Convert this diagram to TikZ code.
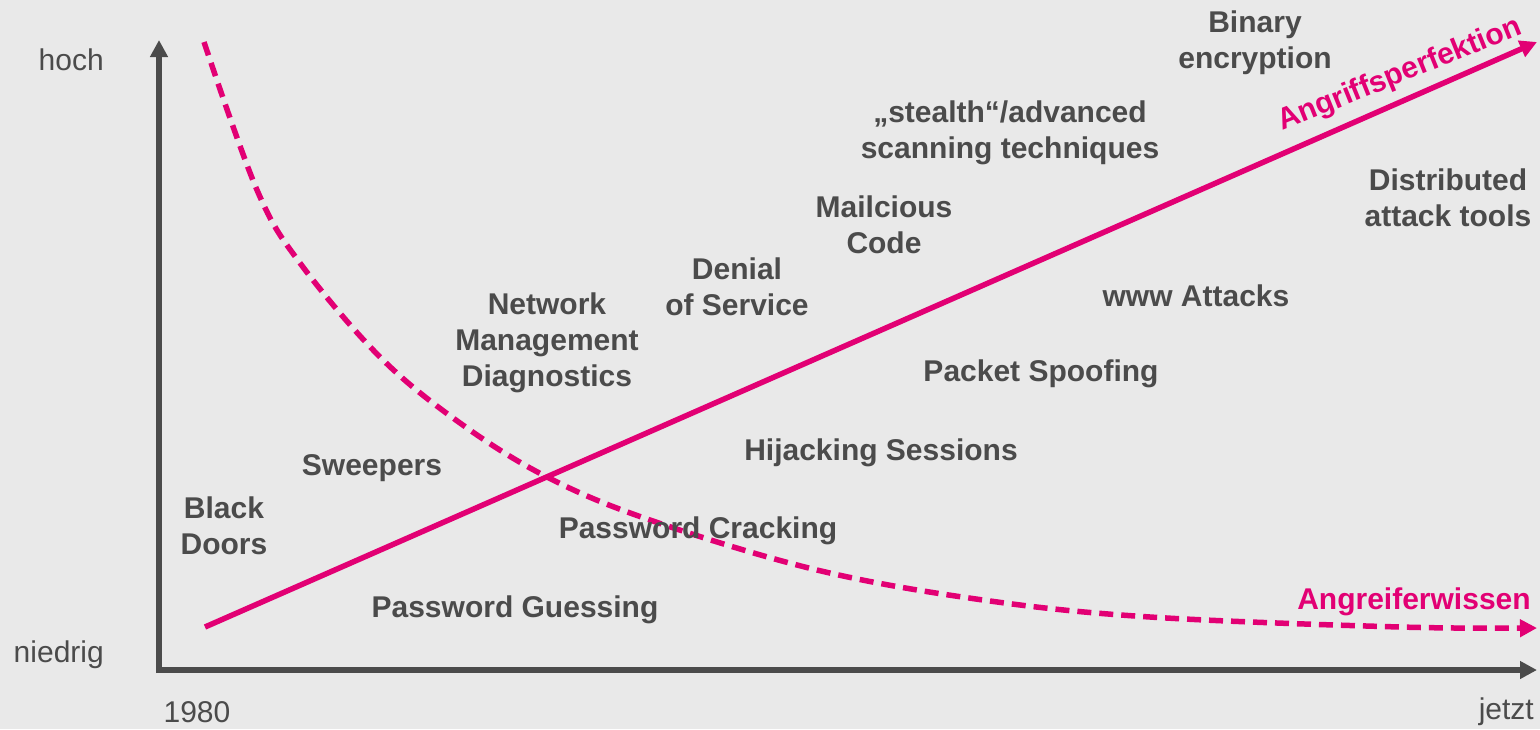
\documentclass[tikz,border=0pt]{standalone}
\usepackage{fontspec}
\setmainfont{Liberation Sans}
\usetikzlibrary{arrows.meta}
\definecolor{tmagenta}{HTML}{E20074}
\definecolor{tgrey}{HTML}{4B4B4B}
\definecolor{tback}{HTML}{E9E9E9}
\tikzset{
  axis/.style={draw=tgrey, line width=5.5pt, -{Triangle[length=17pt,width=17pt]}},
  trend/.style={draw=tmagenta, line width=5.5pt, -{Triangle[length=17pt,width=17pt]}},
  attack/.style={text=tgrey, font=\fontsize{30}{36}\selectfont\bfseries, align=center, inner sep=0pt},
  scale label/.style={text=tgrey, font=\fontsize{30}{36}\selectfont, inner sep=0pt},
  trend label/.style={text=tmagenta, font=\fontsize{30}{36}\selectfont\bfseries, inner sep=0pt}
}
\begin{document}
\begin{tikzpicture}[x=1pt, y=-1pt]
    % background
    \fill[tback] (0,0) rectangle (1540,729);
    \useasboundingbox (0,0) rectangle (1540,729);
    % axes
    \coordinate (origin) at (159,670);
    \coordinate (ytop) at (159,40);
    \coordinate (xend) at (1537,670);
    \draw[axis] ([yshift=-3pt]origin) -- (ytop);
    \draw[axis] ([xshift=-3pt]origin) -- (xend);
    \node[scale label, anchor=east] (hoch) at (104,60) {hoch};
    \node[scale label, anchor=east] (niedrig) at (104,655) {niedrig};
    \node[scale label] (start) at (197,712) {1980};
    \node[scale label, anchor=east] (now) at (1534,712) {jetzt};
    % Angriffsperfektion line
    \coordinate (perf start) at (205,627);
    \coordinate (perf end) at (1537,42);
    \draw[trend] (perf start) -- (perf end);
    \node[trend label, rotate=22, anchor=base west] (perf) at (1282,131) {Angriffsperfektion};
    % Angreiferwissen curve
    \draw[trend, dash pattern=on 14pt off 8pt]
      plot[smooth, tension=0.6] coordinates {(204,42) (257,190) (300,263) (380,357)
        (460,423) (547,477) (650,520) (817,570) (983,600) (1150,617) (1400,627) (1537,628)};
    \node[trend label] (know) at (1414,602) {Angreiferwissen};
    % attack labels
    \node[attack] (binary) at (1255,43) {Binary\\encryption};
    \node[attack] (stealth) at (1010,133) {„stealth“/advanced\\scanning techniques};
    \node[attack] (distributed) at (1448,198) {Distributed\\attack tools};
    \node[attack] (malicious) at (884,225) {Mailcious\\Code};
    \node[attack] (dos) at (737,287) {Denial\\of Service};
    \node[attack] (www) at (1196,296) {www Attacks};
    \node[attack] (netmgmt) at (547,343) {Network\\Management\\Diagnostics};
    \node[attack] (spoofing) at (1041,374) {Packet Spoofing};
    \node[attack] (hijacking) at (881,453) {Hijacking Sessions};
    \node[attack] (sweepers) at (372,468) {Sweepers};
    \node[attack] (backdoors) at (224,526) {Black\\Doors};
    \node[attack] (cracking) at (698,531) {Password Cracking};
    \node[attack] (guessing) at (515,610) {Password Guessing};
\end{tikzpicture}
\end{document}
